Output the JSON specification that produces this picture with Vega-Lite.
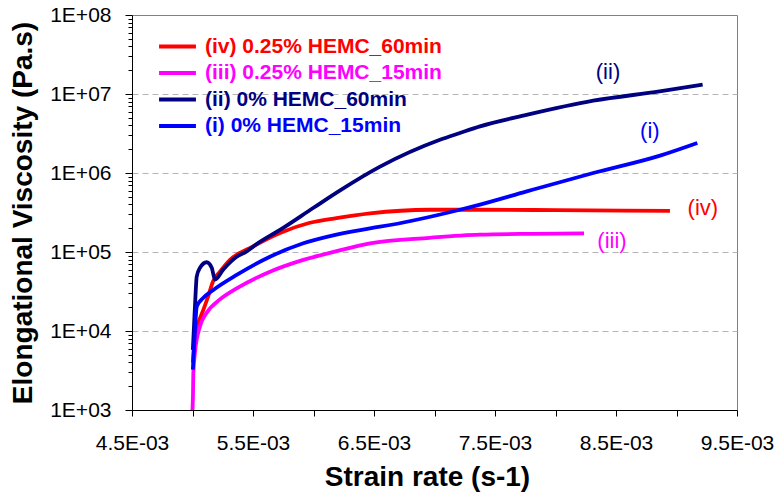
{
  "$schema": "https://vega.github.io/schema/vega-lite/v6.json",
  "width": 605,
  "height": 395,
  "autosize": "none",
  "padding": {"left": 132, "top": 15, "right": 41, "bottom": 84},
  "background": "white",
  "config": {
    "font": "Liberation Sans",
    "view": {"stroke": "#808080", "strokeWidth": 1},
    "axis": {"domainColor": "#000000", "tickColor": "#000000", "labelColor": "#000000", "titleColor": "#000000", "labelFont": "Liberation Sans", "titleFont": "Liberation Sans", "titleFontWeight": "bold"}
  },
  "datasets": {
    "curves": [
      {"series": "(iv) 0.25% HEMC_60min", "rate": 0.005003, "visc": 3981},
      {"series": "(iv) 0.25% HEMC_60min", "rate": 0.00502, "visc": 8913},
      {"series": "(iv) 0.25% HEMC_60min", "rate": 0.005048, "visc": 12589},
      {"series": "(iv) 0.25% HEMC_60min", "rate": 0.00509, "visc": 18621},
      {"series": "(iv) 0.25% HEMC_60min", "rate": 0.00513, "visc": 27542},
      {"series": "(iv) 0.25% HEMC_60min", "rate": 0.00517, "visc": 42658},
      {"series": "(iv) 0.25% HEMC_60min", "rate": 0.005227, "visc": 56234},
      {"series": "(iv) 0.25% HEMC_60min", "rate": 0.00531, "visc": 79433},
      {"series": "(iv) 0.25% HEMC_60min", "rate": 0.0055, "visc": 117490},
      {"series": "(iv) 0.25% HEMC_60min", "rate": 0.005723, "visc": 173780},
      {"series": "(iv) 0.25% HEMC_60min", "rate": 0.00597, "visc": 234423},
      {"series": "(iv) 0.25% HEMC_60min", "rate": 0.00619, "visc": 269153},
      {"series": "(iv) 0.25% HEMC_60min", "rate": 0.006467, "visc": 309030},
      {"series": "(iv) 0.25% HEMC_60min", "rate": 0.00696, "visc": 342768},
      {"series": "(iv) 0.25% HEMC_60min", "rate": 0.007376, "visc": 342768},
      {"series": "(iv) 0.25% HEMC_60min", "rate": 0.008, "visc": 338844},
      {"series": "(iv) 0.25% HEMC_60min", "rate": 0.008946, "visc": 331131},
      {"series": "(iii) 0.25% HEMC_15min", "rate": 0.005, "visc": 1000},
      {"series": "(iii) 0.25% HEMC_15min", "rate": 0.005004, "visc": 1585},
      {"series": "(iii) 0.25% HEMC_15min", "rate": 0.005007, "visc": 2951},
      {"series": "(iii) 0.25% HEMC_15min", "rate": 0.00502, "visc": 5248},
      {"series": "(iii) 0.25% HEMC_15min", "rate": 0.005062, "visc": 11482},
      {"series": "(iii) 0.25% HEMC_15min", "rate": 0.005117, "visc": 16982},
      {"series": "(iii) 0.25% HEMC_15min", "rate": 0.005227, "visc": 25119},
      {"series": "(iii) 0.25% HEMC_15min", "rate": 0.005365, "visc": 34674},
      {"series": "(iii) 0.25% HEMC_15min", "rate": 0.00564, "visc": 56234},
      {"series": "(iii) 0.25% HEMC_15min", "rate": 0.005916, "visc": 79433},
      {"series": "(iii) 0.25% HEMC_15min", "rate": 0.00619, "visc": 102329},
      {"series": "(iii) 0.25% HEMC_15min", "rate": 0.006467, "visc": 128825},
      {"series": "(iii) 0.25% HEMC_15min", "rate": 0.00696, "visc": 151356},
      {"series": "(iii) 0.25% HEMC_15min", "rate": 0.007376, "visc": 165959},
      {"series": "(iii) 0.25% HEMC_15min", "rate": 0.0078, "visc": 169824},
      {"series": "(iii) 0.25% HEMC_15min", "rate": 0.008236, "visc": 171791},
      {"series": "(ii) 0% HEMC_60min", "rate": 0.005003, "visc": 5754},
      {"series": "(ii) 0% HEMC_60min", "rate": 0.00502, "visc": 19953},
      {"series": "(ii) 0% HEMC_60min", "rate": 0.005035, "visc": 48978},
      {"series": "(ii) 0% HEMC_60min", "rate": 0.005062, "visc": 63096},
      {"series": "(ii) 0% HEMC_60min", "rate": 0.005117, "visc": 74131},
      {"series": "(ii) 0% HEMC_60min", "rate": 0.005159, "visc": 63096},
      {"series": "(ii) 0% HEMC_60min", "rate": 0.005186, "visc": 44668},
      {"series": "(ii) 0% HEMC_60min", "rate": 0.005255, "visc": 60256},
      {"series": "(ii) 0% HEMC_60min", "rate": 0.005365, "visc": 87096},
      {"series": "(ii) 0% HEMC_60min", "rate": 0.005448, "visc": 102000},
      {"series": "(ii) 0% HEMC_60min", "rate": 0.00553, "visc": 125893},
      {"series": "(ii) 0% HEMC_60min", "rate": 0.005723, "visc": 190546},
      {"series": "(ii) 0% HEMC_60min", "rate": 0.006, "visc": 363078},
      {"series": "(ii) 0% HEMC_60min", "rate": 0.00622, "visc": 602560},
      {"series": "(ii) 0% HEMC_60min", "rate": 0.00655, "visc": 1202264},
      {"series": "(ii) 0% HEMC_60min", "rate": 0.007045, "visc": 2630268},
      {"series": "(ii) 0% HEMC_60min", "rate": 0.00721, "visc": 3206269},
      {"series": "(ii) 0% HEMC_60min", "rate": 0.007376, "visc": 3890451},
      {"series": "(ii) 0% HEMC_60min", "rate": 0.00776, "visc": 5430000},
      {"series": "(ii) 0% HEMC_60min", "rate": 0.008312, "visc": 8220000},
      {"series": "(ii) 0% HEMC_60min", "rate": 0.00886, "visc": 10789287},
      {"series": "(ii) 0% HEMC_60min", "rate": 0.009216, "visc": 13121999},
      {"series": "(i) 0% HEMC_15min", "rate": 0.005003, "visc": 3236},
      {"series": "(i) 0% HEMC_15min", "rate": 0.00502, "visc": 10000},
      {"series": "(i) 0% HEMC_15min", "rate": 0.005035, "visc": 20417},
      {"series": "(i) 0% HEMC_15min", "rate": 0.00509, "visc": 26303},
      {"series": "(i) 0% HEMC_15min", "rate": 0.005172, "visc": 33113},
      {"series": "(i) 0% HEMC_15min", "rate": 0.005365, "visc": 51286},
      {"series": "(i) 0% HEMC_15min", "rate": 0.00564, "visc": 87096},
      {"series": "(i) 0% HEMC_15min", "rate": 0.005916, "visc": 128825},
      {"series": "(i) 0% HEMC_15min", "rate": 0.00619, "visc": 165959},
      {"series": "(i) 0% HEMC_15min", "rate": 0.006467, "visc": 199526},
      {"series": "(i) 0% HEMC_15min", "rate": 0.00655, "visc": 208930},
      {"series": "(i) 0% HEMC_15min", "rate": 0.00721, "visc": 342768},
      {"series": "(i) 0% HEMC_15min", "rate": 0.007376, "visc": 398107},
      {"series": "(i) 0% HEMC_15min", "rate": 0.007762, "visc": 584790},
      {"series": "(i) 0% HEMC_15min", "rate": 0.008312, "visc": 1000000},
      {"series": "(i) 0% HEMC_15min", "rate": 0.008864, "visc": 1659587},
      {"series": "(i) 0% HEMC_15min", "rate": 0.009172, "visc": 2398833}
    ],
    "labels": [
      {"tag": "(ii)", "rate": 0.008434, "visc": 19000000},
      {"tag": "(i)", "rate": 0.00878, "visc": 3430000},
      {"tag": "(iv)", "rate": 0.009218, "visc": 363000},
      {"tag": "(iii)", "rate": 0.008467, "visc": 139000}
    ]
  },
  "layer": [
    {
      "data": {"name": "curves"},
      "mark": {"type": "line", "strokeWidth": 3.8, "clip": true, "interpolate": "monotone"},
      "encoding": {
        "x": {
          "field": "rate", "type": "quantitative",
          "scale": {"domain": [0.0045, 0.0095], "nice": false, "zero": false},
          "axis": {
            "title": "Strain rate (s-1)",
            "values": [0.0045, 0.005, 0.0055, 0.006, 0.0065, 0.007, 0.0075, 0.008, 0.0085, 0.009, 0.0095],
            "labelExpr": "round(datum.value*2000) % 2 == 1 ? format(datum.value*1000, '.1f') + 'E-03' : ''",
            "grid": false, "tickSize": 6, "labelFontSize": 21, "labelPadding": 16,
            "labelFlush": false, "labelOverlap": false,
            "titleFontSize": 28, "titleFontWeight": "bold", "titlePadding": 10, "titleX": 295
          }
        },
        "y": {
          "field": "visc", "type": "quantitative",
          "scale": {"type": "log", "domain": [1000, 100000000], "nice": false},
          "axis": {
            "title": "Elongational Viscosity (Pa.s)",
            "values": [1000, 2000, 3000, 4000, 5000, 6000, 7000, 8000, 9000, 10000, 20000, 30000, 40000, 50000, 60000, 70000, 80000, 90000, 100000, 200000, 300000, 400000, 500000, 600000, 700000, 800000, 900000, 1000000, 2000000, 3000000, 4000000, 5000000, 6000000, 7000000, 8000000, 9000000, 10000000, 20000000, 30000000, 40000000, 50000000, 60000000, 70000000, 80000000, 90000000, 100000000],
            "labelExpr": "abs(log(datum.value)/LN10 - round(log(datum.value)/LN10)) < 0.001 ? '1E+0' + round(log(datum.value)/LN10) : ''",
            "tickSize": {"condition": {"test": "abs(log(datum.value)/LN10 - round(log(datum.value)/LN10)) < 0.001", "value": 7}, "value": 4},
            "gridOpacity": {"condition": {"test": "abs(log(datum.value)/LN10 - round(log(datum.value)/LN10)) < 0.001 && datum.value > 1000 && datum.value < 100000000", "value": 1}, "value": 0},
            "grid": true, "gridColor": "#b4b4b4", "gridDash": [6, 4], "gridWidth": 1,
            "labelFontSize": 21, "labelPadding": 14, "labelFlush": false, "labelOverlap": false,
            "titleFontSize": 28, "titleFontWeight": "bold", "titlePadding": 12
          }
        },
        "color": {
          "field": "series", "type": "nominal",
          "scale": {
            "domain": ["(iv) 0.25% HEMC_60min", "(iii) 0.25% HEMC_15min", "(ii) 0% HEMC_60min", "(i) 0% HEMC_15min"],
            "range": ["#ff0000", "#ff00ff", "#000080", "#0000ff"]
          },
          "legend": {
            "title": null, "orient": "none", "legendX": 33, "legendY": 19,
            "symbolType": "M-1.8,0L1.8,0", "symbolSize": 420, "symbolStrokeWidth": 4,
            "labelFont": "Liberation Sans", "labelFontSize": 21, "labelFontWeight": "bold",
            "labelOffset": 15, "rowPadding": 3.5, "labelLimit": 400,
            "labelColor": {"expr": "datum.label == '(iv) 0.25% HEMC_60min' ? '#ff0000' : datum.label == '(iii) 0.25% HEMC_15min' ? '#ff00ff' : datum.label == '(ii) 0% HEMC_60min' ? '#000080' : '#0000ff'"}
          }
        }
      }
    },
    {
      "data": {"name": "labels"},
      "transform": [{"filter": "datum.tag == '(ii)'"}],
      "mark": {"type": "text", "fontSize": 22, "color": "#000080", "font": "Liberation Sans"},
      "encoding": {"x": {"field": "rate", "type": "quantitative"}, "y": {"field": "visc", "type": "quantitative"}, "text": {"field": "tag"}}
    },
    {
      "data": {"name": "labels"},
      "transform": [{"filter": "datum.tag == '(i)'"}],
      "mark": {"type": "text", "fontSize": 22, "color": "#0000ff", "font": "Liberation Sans"},
      "encoding": {"x": {"field": "rate", "type": "quantitative"}, "y": {"field": "visc", "type": "quantitative"}, "text": {"field": "tag"}}
    },
    {
      "data": {"name": "labels"},
      "transform": [{"filter": "datum.tag == '(iv)'"}],
      "mark": {"type": "text", "fontSize": 22, "color": "#ff0000", "font": "Liberation Sans"},
      "encoding": {"x": {"field": "rate", "type": "quantitative"}, "y": {"field": "visc", "type": "quantitative"}, "text": {"field": "tag"}}
    },
    {
      "data": {"name": "labels"},
      "transform": [{"filter": "datum.tag == '(iii)'"}],
      "mark": {"type": "text", "fontSize": 22, "color": "#ff00ff", "font": "Liberation Sans"},
      "encoding": {"x": {"field": "rate", "type": "quantitative"}, "y": {"field": "visc", "type": "quantitative"}, "text": {"field": "tag"}}
    }
  ]
}
